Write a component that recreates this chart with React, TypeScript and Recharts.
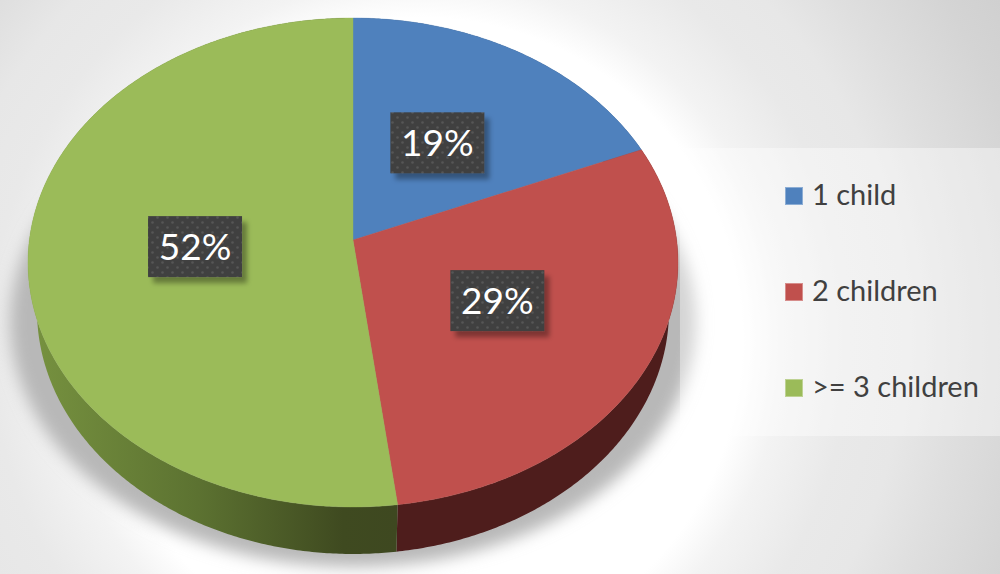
import React from "react";
import { PieChart, Pie, Legend } from "recharts";

const categories = ["1 child", "2 children", ">= 3 children"];
const shares = [18.7, 29.3, 52];
const colors = ["#4f81bd", "#c0504d", "#9bbb59"];
const wallColors = ["#2f4d71", "#4e1d1c", "url(#greenWall)"];
const labelNudge = [
  [-2, 0],
  [1, -1.5],
  [4, -1],
];

const rows = categories.map((name, i) => ({ name, value: shares[i], fill: colors[i] }));
const wallRows = categories.map((name, i) => ({ name, value: shares[i], fill: wallColors[i] }));

const K = 0.092; // perspective of the disc
const WIDEN = 1.335;
const LOWER = { sx: 316 / 325, sy: 244 / 245, ey: 22, drop: 48 };

function project(cx: number, cy: number, r: number, clockDeg: number, t = 1) {
  const a = (clockDeg * Math.PI) / 180;
  const u = Math.sin(a) * t;
  const v = -Math.cos(a) * t;
  const d = 1 - K * v;
  return { x: cx + (r * WIDEN * u) / d, y: cy + (r * v) / d };
}

function lowerPoint(p: { x: number; y: number }, cx: number, cy: number) {
  const ey = cy + LOWER.ey;
  return { x: cx + (p.x - cx) * LOWER.sx, y: ey + LOWER.drop + (p.y - ey) * LOWER.sy };
}

function rim(cx: number, cy: number, r: number, start: number, end: number) {
  const a = 90 - start;
  const b = 90 - end;
  const n = Math.max(2, Math.ceil(Math.abs(b - a) * 2));
  const pts = [];
  for (let i = 0; i <= n; i++) pts.push(project(cx, cy, r, a + ((b - a) * i) / n));
  return pts;
}

const toPath = (pts: { x: number; y: number }[]) =>
  pts.map((p, i) => `${i ? "L" : "M"}${p.x.toFixed(2)} ${p.y.toFixed(2)}`).join(" ");

function TopSlice(props: any) {
  const { cx, cy, outerRadius, startAngle, endAngle, fill } = props;
  const pts = rim(cx, cy, outerRadius, startAngle, endAngle);
  return <path d={`M${cx} ${cy} ${toPath(pts).replace("M", "L")} Z`} fill={fill} stroke={fill} strokeWidth={0.4} />;
}

function WallSlice(props: any) {
  const { cx, cy, outerRadius, startAngle, endAngle, fill } = props;
  const pts = rim(cx, cy, outerRadius, startAngle, endAngle);
  const low = pts.map((p) => lowerPoint(p, cx, cy)).reverse();
  return <path d={`${toPath(pts)} ${toPath(low).replace("M", "L")} Z`} fill={fill} />;
}

function SliceLabel(props: any) {
  const { cx, cy, outerRadius, midAngle, value, index } = props;
  const c = project(cx, cy, outerRadius, 90 - midAngle, 0.5);
  const [nx, ny] = labelNudge[index];
  const w = 94;
  const h = 61;
  const x = c.x + nx;
  const y = c.y + ny;
  return (
    <g>
      <rect x={x - w / 2} y={y - h / 2} width={w} height={h} fill="url(#labelDots)" filter="url(#labelShadow)" />
      <text x={x} y={y + 13} textAnchor="middle" fontFamily="Lato" fontSize={37} fill="#ffffff">
        {`${Math.round(value)}%`}
      </text>
    </g>
  );
}

function LegendBox({ payload }: any) {
  const items = (payload || []).filter((e: any) => colors.includes(e.color));
  return (
    <div style={{ position: "relative", width: 320, height: 288 }}>
      {items.map((e: any, i: number) => (
        <div key={e.value} style={{ position: "absolute", left: 105, top: 39 + i * 96, height: 18 }}>
          <span
            style={{
              position: "absolute",
              left: 0,
              top: 0,
              width: 18,
              height: 18,
              boxSizing: "border-box",
              background: e.color,
              border: "1px solid rgba(255,255,255,0.35)",
            }}
          />
          <span
            style={{
              position: "absolute",
              left: 27,
              top: -10,
              whiteSpace: "nowrap",
              fontFamily: "Lato",
              fontSize: 29,
              lineHeight: "34px",
              color: "#404040",
            }}
          >
            {e.value}
          </span>
        </div>
      ))}
    </div>
  );
}

export default function App() {
  return (
    <div
      style={{
        position: "absolute",
        left: 0,
        top: 0,
        width: 1000,
        height: 574,
        overflow: "hidden",
        background:
          "radial-gradient(circle 672px at 420px 340px, #ffffff 48%, #f3f3f3 54%, #e9e9e9 64%, #e7e7e7 72%, #dfdfdf 80%, #d4d4d4 93%, #d0d0d0 100%)",
      }}
    >
      <PieChart width={1000} height={574} margin={{ top: 0, right: 0, bottom: 0, left: 0 }}>
        <defs>
          <linearGradient id="greenWall" gradientUnits="userSpaceOnUse" x1="35" y1="0" x2="397" y2="0">
            <stop offset="0" stopColor="#76913f" />
            <stop offset="0.45" stopColor="#5c7231" />
            <stop offset="0.85" stopColor="#3f4a20" />
            <stop offset="1" stopColor="#3e4820" />
          </linearGradient>
          <pattern id="labelDots" patternUnits="userSpaceOnUse" width="10" height="10">
            <rect width="10" height="10" fill="#3f3f3f" />
            <circle cx="2.5" cy="2.5" r="1.3" fill="#565656" />
            <circle cx="7.5" cy="7.5" r="1.3" fill="#565656" />
          </pattern>
          <filter id="labelShadow" x="-20%" y="-30%" width="140%" height="160%">
            <feDropShadow dx="5" dy="6" stdDeviation="2.5" floodColor="#000000" floodOpacity="0.35" />
          </filter>
          <filter id="discShadow" x="-10%" y="-10%" width="120%" height="120%">
            <feGaussianBlur stdDeviation="8" />
          </filter>
        </defs>
        <ellipse cx={353} cy={322} rx={343} ry={245} fill="#b8b8b8" filter="url(#discShadow)" />
        <Pie
          data={wallRows}
          dataKey="value"
          nameKey="name"
          cx={353}
          cy={240}
          outerRadius={242.4}
          startAngle={90}
          endAngle={-270}
          stroke="none"
          legendType="none"
          shape={WallSlice}
          isAnimationActive={false}
        />
        <Pie
          data={rows}
          dataKey="value"
          nameKey="name"
          cx={353}
          cy={240}
          outerRadius={242.4}
          startAngle={90}
          endAngle={-270}
          stroke="none"
          shape={TopSlice}
          label={SliceLabel}
          labelLine={false}
          isAnimationActive={false}
        />
        <Legend
          content={LegendBox}
          wrapperStyle={{
            position: "absolute",
            left: 680,
            top: 148,
            right: "auto",
            bottom: "auto",
            width: 320,
            height: 288,
            background: "rgba(255,255,255,0.4)",
          }}
        />
      </PieChart>
    </div>
  );
}
